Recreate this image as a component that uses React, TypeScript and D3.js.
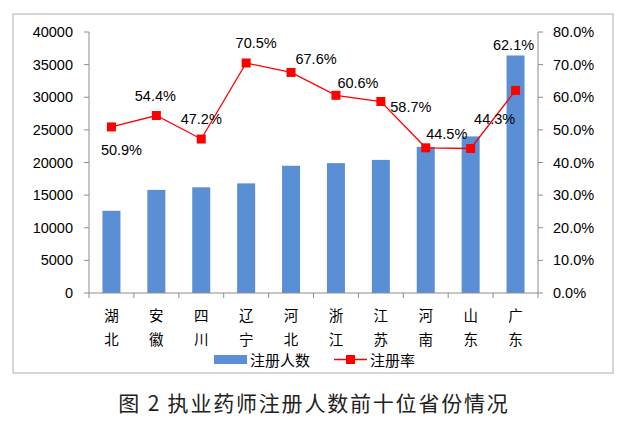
import React from "react";
import * as d3 from "d3";

const categories = ["湖北", "安徽", "四川", "辽宁", "河北", "浙江", "江苏", "河南", "山东", "广东"];
const counts = [12600, 15800, 16200, 16800, 19500, 19900, 20400, 22400, 24000, 36400];
const rates = [50.9, 54.4, 47.2, 70.5, 67.6, 60.6, 58.7, 44.5, 44.3, 62.1];
const leftTicks = [0, 5000, 10000, 15000, 20000, 25000, 30000, 35000, 40000];
const rightTicks = [0, 10, 20, 30, 40, 50, 60, 70, 80];
// label offsets (dx, dy) relative to marker, style only
const labelDx = [10, -1, 0, 10, 25, 22, 30, 21, 24, -2];
const labelDy = [23, -20, -20, -20, -14, -12, 5, -14, -30, -45];

const W = 630, H = 422;
const plotL = 89, plotR = 538, plotT = 32, plotB = 293;
const numFont = "'Liberation Sans', Arial, sans-serif";
const cjkFont = "'Noto Sans CJK SC', sans-serif";
const barColor = "#5B8FD5";
const red = "#FF0000";
const axisColor = "#8c8c8c";

export default function App() {
  const xb = d3.scaleBand<string>().domain(categories).range([plotL, plotR]);
  const yL = d3.scaleLinear().domain([0, 40000]).range([plotB, plotT]);
  const yR = d3.scaleLinear().domain([0, 80]).range([plotB, plotT]);
  const cx = (c: string) => (xb(c) as number) + xb.bandwidth() / 2;
  const line = d3.line<number>().x((_, i) => cx(categories[i])).y((d) => yR(d));
  const bw = 18;

  return (
    <svg width={W} height={H} style={{ position: "absolute", left: 0, top: 0, background: "#fff" }}>
      <rect x={13} y={14} width={600} height={359} fill="#fff" stroke="#c8c8c8" strokeWidth={1.5} />
      {/* bars */}
      {categories.map((c, i) => (
        <rect key={c} x={cx(c) - bw / 2} y={yL(counts[i])} width={bw} height={plotB - yL(counts[i])} fill={barColor} />
      ))}
      {/* left axis */}
      <line x1={plotL} x2={plotL} y1={plotT} y2={plotB} stroke={axisColor} strokeWidth={1} />
      {leftTicks.map((t) => (
        <g key={t}>
          <line x1={plotL - 5} x2={plotL} y1={yL(t)} y2={yL(t)} stroke={axisColor} />
          <text x={73} y={yL(t)} dy="0.35em" textAnchor="end" fontFamily={numFont} fontSize={14.5} fill="#000">{t}</text>
        </g>
      ))}
      {/* right axis */}
      <line x1={plotR} x2={plotR} y1={plotT} y2={plotB} stroke={axisColor} strokeWidth={1} />
      {rightTicks.map((t) => (
        <g key={t}>
          <line x1={plotR} x2={plotR + 5} y1={yR(t)} y2={yR(t)} stroke={axisColor} />
          <text x={553} y={yR(t)} dy="0.35em" textAnchor="start" fontFamily={numFont} fontSize={14.5} fill="#000">{t.toFixed(1) + "%"}</text>
        </g>
      ))}
      {/* x axis */}
      <line x1={plotL} x2={plotR} y1={plotB} y2={plotB} stroke={axisColor} strokeWidth={1} />
      {categories.map((c) => (
        <line key={"t" + c} x1={xb(c) as number} x2={xb(c) as number} y1={plotB} y2={plotB + 5} stroke={axisColor} />
      ))}
      <line x1={plotR} x2={plotR} y1={plotB} y2={plotB + 5} stroke={axisColor} />
      {categories.map((c) => (
        <g key={"l" + c}>
          <text x={cx(c)} y={315.5} dy="0.35em" textAnchor="middle" fontFamily={cjkFont} fontSize={14.5} fill="#000">{c[0]}</text>
          <text x={cx(c)} y={339.5} dy="0.35em" textAnchor="middle" fontFamily={cjkFont} fontSize={14.5} fill="#000">{c[1]}</text>
        </g>
      ))}
      {/* line */}
      <path d={line(rates) || ""} fill="none" stroke={red} strokeWidth={1.3} />
      {rates.map((r, i) => (
        <rect key={"m" + i} x={cx(categories[i]) - 4.5} y={yR(r) - 4.5} width={9} height={9} fill={red} />
      ))}
      {rates.map((r, i) => (
        <text key={"v" + i} x={cx(categories[i]) + labelDx[i]} y={yR(r) + labelDy[i]} dy="0.35em" textAnchor="middle" fontFamily={numFont} fontSize={14.5} fill="#000">
          {r.toFixed(1) + "%"}
        </text>
      ))}
      {/* legend */}
      <rect x={214} y={355} width={33} height={9} fill={barColor} />
      <text x={250} y={361} dy="0.35em" fontFamily={cjkFont} fontSize={15} fill="#000">注册人数</text>
      <line x1={334} x2={367} y1={359.5} y2={359.5} stroke={red} strokeWidth={1.3} />
      <rect x={346} y={355} width={9} height={9} fill={red} />
      <text x={370} y={361} dy="0.35em" fontFamily={cjkFont} fontSize={15} fill="#000">注册率</text>
      {/* caption */}
      <text x={314} y={404} dy="0.35em" textAnchor="middle" fontFamily={cjkFont} fontSize={21} letterSpacing={1.8} fill="#222">图 2 执业药师注册人数前十位省份情况</text>
    </svg>
  );
}
